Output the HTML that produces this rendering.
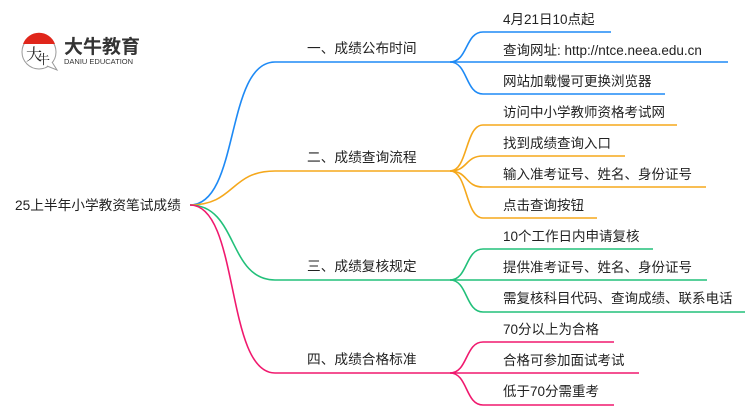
<!DOCTYPE html>
<html><head><meta charset="utf-8"><style>
body{margin:0;width:750px;height:410px;background:#fff;overflow:hidden;position:relative;font-family:"Liberation Sans","Noto Sans CJK SC",sans-serif;color:#222}
svg{position:absolute;left:0;top:0}
.t{position:absolute;white-space:nowrap;line-height:1}
.m{font-size:13.7px}
.l{font-size:13.5px}
</style></head><body>
<svg width="750" height="410">
<g fill="none" stroke-width="1.6">
<g stroke="#1e8af5">
<path d="M190 205 C240 205,225 62,275 62 L450 62"/>
<path d="M450 62 C468 62,465 32,483 32 L611 32"/>
<path d="M450 62 L728 62"/>
<path d="M450 62 C468 62,465 94,483 94 L665 94"/>
</g>
<g stroke="#f5a81c">
<path d="M190 205 C235 205,230 171,275 171 L450 171"/>
<path d="M450 171 C468 171,465 125,483 125 L677 125"/>
<path d="M450 171 C468 171,465 156,483 156 L625 156"/>
<path d="M450 171 C468 171,465 187,483 187 L706 187"/>
<path d="M450 171 C468 171,465 218,483 218 L597 218"/>
</g>
<g stroke="#22c07a">
<path d="M190 205 C238 205,228 280,275 280 L450 280"/>
<path d="M450 280 C468 280,465 249,483 249 L653 249"/>
<path d="M450 280 L707 280"/>
<path d="M450 280 C468 280,465 312,483 312 L745 312"/>
</g>
<g stroke="#f0196e">
<path d="M190 205 C240 205,225 373,275 373 L450 373"/>
<path d="M450 373 C468 373,465 342,483 342 L614 342"/>
<path d="M450 373 L639 373"/>
<path d="M450 373 C468 373,465 405,483 405 L614 405"/>
</g>
</g>
<circle cx="39" cy="52" r="17" fill="#fff" stroke="#999" stroke-width="1"/>
<path d="M23 44 A17 17 0 0 1 55 44 Z" fill="#e0261b"/>
<path d="M47 66 L57 70 L52 62" fill="#fff" stroke="#999" stroke-width="1"/>
<text x="26" y="60" font-size="16" font-family="Noto Serif CJK SC,serif" fill="#222">大</text>
<text x="37" y="64" font-size="13" font-family="Noto Serif CJK SC,serif" fill="#222">牛</text>
</svg>
<div class="t" style="left:64px;top:38px;font-size:19px;font-weight:bold;color:#333">大牛教育</div>
<div class="t" style="left:64px;top:58px;font-size:7.5px;color:#333">DANIU EDUCATION</div>
<div class="t" style="left:15px;top:199px;font-size:13.7px">25上半年小学教资笔试成绩</div>
<div class="t m" style="left:307px;top:42px">一、成绩公布时间</div>
<div class="t m" style="left:307px;top:151px">二、成绩查询流程</div>
<div class="t m" style="left:307px;top:260px">三、成绩复核规定</div>
<div class="t m" style="left:307px;top:353px">四、成绩合格标准</div>
<div class="t l" style="left:503px;top:13px">4月21日10点起</div>
<div class="t l" style="left:503px;top:44px">查询网址: http://ntce.neea.edu.cn</div>
<div class="t l" style="left:503px;top:75px">网站加载慢可更换浏览器</div>
<div class="t l" style="left:503px;top:106px">访问中小学教师资格考试网</div>
<div class="t l" style="left:503px;top:137px">找到成绩查询入口</div>
<div class="t l" style="left:503px;top:168px">输入准考证号、姓名、身份证号</div>
<div class="t l" style="left:503px;top:199px">点击查询按钮</div>
<div class="t l" style="left:503px;top:230px">10个工作日内申请复核</div>
<div class="t l" style="left:503px;top:261px">提供准考证号、姓名、身份证号</div>
<div class="t l" style="left:503px;top:292px">需复核科目代码、查询成绩、联系电话</div>
<div class="t l" style="left:503px;top:323px">70分以上为合格</div>
<div class="t l" style="left:503px;top:354px">合格可参加面试考试</div>
<div class="t l" style="left:503px;top:385px">低于70分需重考</div>
</body></html>
